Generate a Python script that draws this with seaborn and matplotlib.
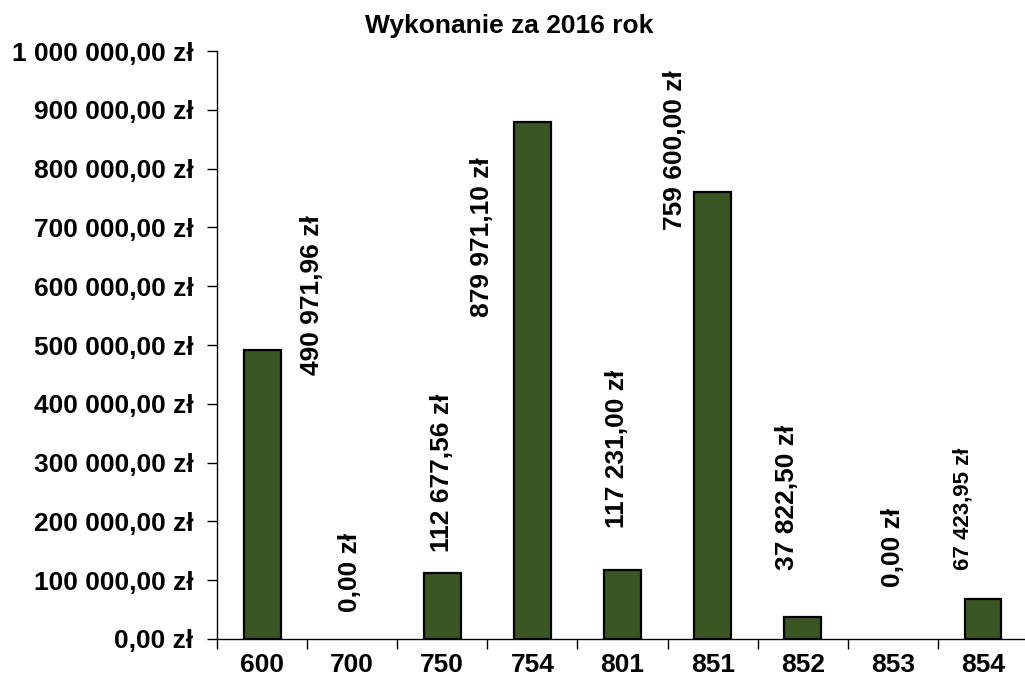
import matplotlib
matplotlib.use('Agg')
import matplotlib.pyplot as plt
import seaborn as sns
from matplotlib.ticker import FuncFormatter, MultipleLocator, FixedLocator

# dane
kategorie = ['600', '700', '750', '754', '801', '851', '852', '853', '854']
wykonanie = [490971.96, 0.00, 112677.56, 879971.10, 117231.00, 759600.00, 37822.50, 0.00, 67423.95]
tytul = 'Wykonanie za 2016 rok'

# ręczne położenie etykiet (przesunięcie w osi x, początek tekstu w osi y)
etyk_dx = [0.55, -0.02, 0.0, -0.56, -0.06, -0.42, -0.17, 0.0, -0.22]
etyk_y = [449000, 46000, 148000, 548000, 189000, 696000, 117000, 88000, 117000]
etyk_rozmiar = [19, 19, 19, 19, 19, 19, 19, 19, 16]

sns.set_style('white')
plt.rcParams['font.family'] = ['Liberation Sans', 'DejaVu Sans']
plt.rcParams['font.weight'] = 'bold'
plt.rcParams['text.color'] = 'black'
plt.rcParams['xtick.color'] = 'black'
plt.rcParams['ytick.color'] = 'black'


def zl(v, pos=None):
    return f"{v:,.2f}".replace(',', ' ').replace('.', ',') + ' zł'


fig = plt.figure(figsize=(10.25, 6.84), dpi=100)
ax = fig.add_axes([0.2117, 0.0658, 0.7913, 0.8596])

sns.barplot(x=kategorie, y=wykonanie, color='#3a5623', saturation=1,
            edgecolor='black', linewidth=1.6, width=0.41, ax=ax)

# słupki o wartości zero nie mają widocznej ramki
for p, v in zip(ax.patches, wykonanie):
    if v == 0:
        p.set_linewidth(0)

ax.set_ylim(0, 1000000)
ax.set_xlim(-0.5, len(kategorie) - 0.5)
ax.yaxis.set_major_locator(MultipleLocator(100000))
ax.yaxis.set_major_formatter(FuncFormatter(zl))

for s in ['top', 'right']:
    ax.spines[s].set_visible(False)
for s in ['left', 'bottom']:
    ax.spines[s].set_color('black')
    ax.spines[s].set_linewidth(1.0)

ax.tick_params(axis='y', direction='out', length=7, width=1, pad=10,
               labelsize=19, left=True, labelcolor='black')
ax.tick_params(axis='x', which='major', length=0, pad=10, labelsize=19, labelcolor='black')
ax.xaxis.set_minor_locator(FixedLocator([i - 0.5 for i in range(len(kategorie) + 1)]))
ax.tick_params(axis='x', which='minor', direction='out', length=7, width=1, bottom=True)
for t in ax.get_xticklabels() + ax.get_yticklabels():
    t.set_fontweight('bold')
ax.set_xlabel('')
ax.set_ylabel('')

for i, v in enumerate(wykonanie):
    ax.text(i + etyk_dx[i], etyk_y[i], zl(v), rotation=90, ha='center', va='bottom',
            fontsize=etyk_rozmiar[i], fontweight='bold', color='black')

fig.text(0.497, 1 - 33 / 684, tytul, ha='center', va='baseline',
         fontsize=19, fontweight='bold', color='black')

fig.savefig('out.png', dpi=100)
